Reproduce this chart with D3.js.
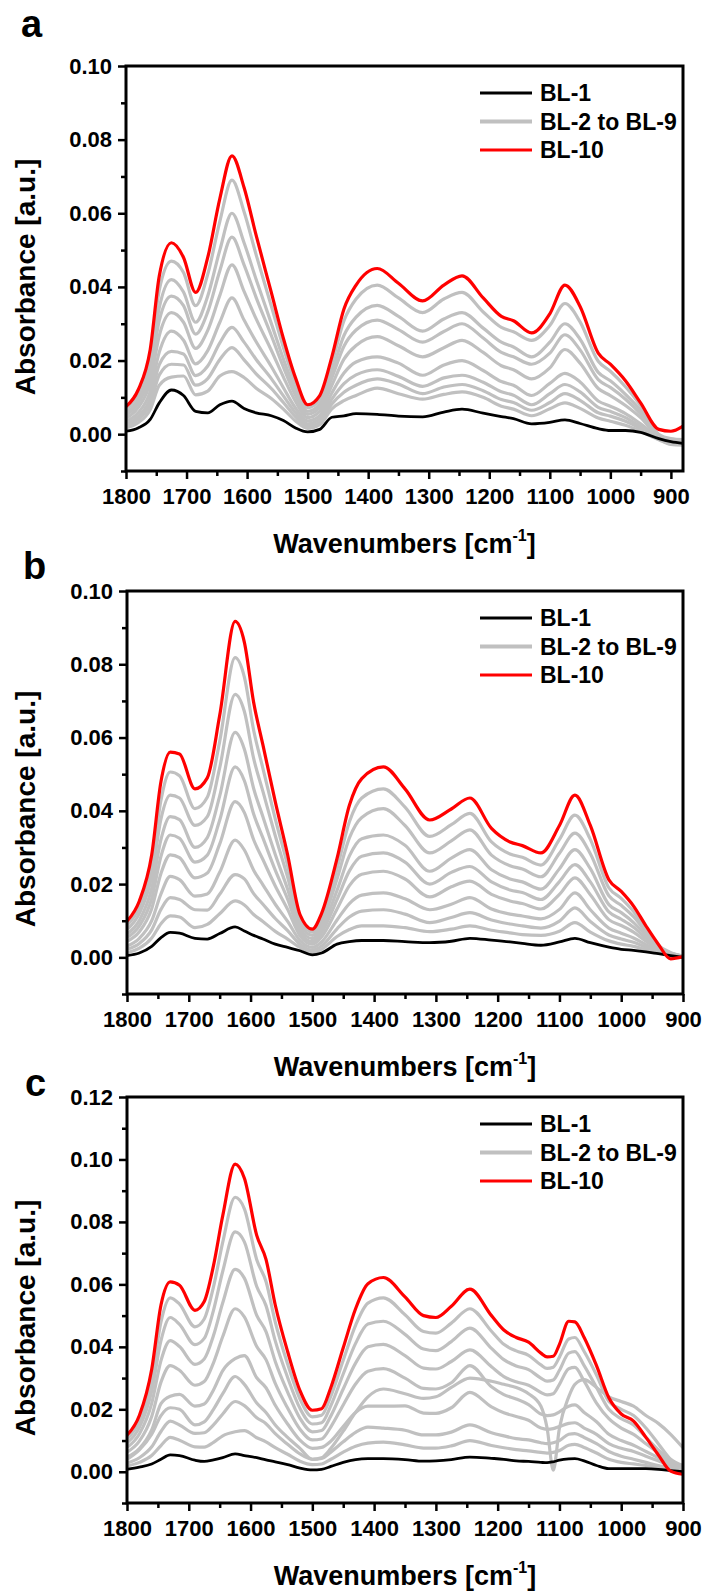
<!DOCTYPE html>
<html>
<head>
<meta charset="utf-8">
<script src="https://cdnjs.cloudflare.com/ajax/libs/d3/7.8.5/d3.min.js"></script>
<style>
body{margin:0;background:#fff;}
text{font-family:"Liberation Sans",Arial,sans-serif;font-weight:bold;fill:#000;}
</style>
</head>
<body>
<div id="dataviz-container"></div>
<script>
//---------------------data: panel a---------------------------------------------------
var wnA = [1800,1780,1760,1745,1725,1705,1685,1665,1645,1625,1605,1585,1560,1540,1520,1500,1480,1460,1440,1420,1385,1350,1310,1275,1245,1210,1180,1160,1130,1100,1075,1050,1020,1000,975,950,920,900,880];
var bl1A = [.0008,.0017,.004,.0085,.012,.0105,.0062,.0058,.008,.009,.007,.0058,.005,.0037,.0017,.0006,.0013,.0046,.005,.0056,.0054,.0049,.0047,.006,.0068,.0057,.0048,.0042,.0028,.0032,.0039,.0029,.0015,.001,.001,.0005,-.0012,-.002,-.0025];
var bl10A = [.0075,.012,.023,.043,.052,.048,.0385,.048,.064,.0756,.067,.054,.0385,.026,.0153,.008,.0105,.021,.034,.0405,.045,.041,.0362,.0405,.043,.037,.032,.0308,.0275,.0327,.0405,.0347,.022,.019,.0145,.0085,.0013,.0008,.0022];
// BL-2..BL-9, one row per wavenumber of wnA
var grayA = [
 [.0017,.0023,.0028,.0035,.0043,.0052,.0058,.0068],
 [.0031,.0040,.0048,.0058,.0072,.0084,.0094,.0109],
 [.0067,.0082,.0097,.0116,.0141,.0164,.0183,.0209],
 [.0133,.0161,.0189,.0223,.0268,.0309,.0344,.0392],
 [.0155,.0190,.0225,.0280,.0330,.0375,.0420,.0470],
 [.0158,.0188,.0218,.0255,.0304,.0349,.0386,.0439],
 [.0107,.0133,.0159,.0191,.0233,.0272,.0304,.0349],
 [.0117,.0151,.0185,.0227,.0282,.0332,.0375,.0434],
 [.0158,.0203,.0248,.0304,.0377,.0444,.0500,.0578],
 [.0170,.0235,.0290,.0370,.0460,.0535,.0600,.0690],
 [.0154,.0202,.0250,.0310,.0388,.0460,.0520,.0604],
 [.0125,.0164,.0203,.0251,.0313,.0371,.0420,.0487],
 [.0097,.0124,.0151,.0184,.0228,.0268,.0301,.0348],
 [.0068,.0086,.0104,.0126,.0155,.0182,.0204,.0235],
 [.0036,.0047,.0058,.0071,.0089,.0105,.0119,.0138],
 [.0016,.0022,.0028,.0036,.0045,.0054,.0062,.0072],
 [.0026,.0033,.0041,.0050,.0062,.0073,.0082,.0095],
 [.0069,.0082,.0095,.0112,.0133,.0153,.0169,.0192],
 [.0091,.0114,.0137,.0166,.0204,.0239,.0268,.0308],
 [.0105,.0133,.0161,.0196,.0241,.0283,.0318,.0367],
 [.0125,.0150,.0175,.0210,.0265,.0310,.0350,.0405],
 [.0110,.0136,.0157,.0193,.0240,.0284,.0320,.0370],
 [.0095,.0110,.0130,.0160,.0210,.0250,.0280,.0330],
 [.0108,.0128,.0153,.0188,.0235,.0279,.0313,.0367],
 [.0115,.0135,.0160,.0200,.0255,.0300,.0330,.0385],
 [.0100,.0118,.0141,.0173,.0222,.0261,.0288,.0332],
 [.0076,.0094,.0115,.0143,.0186,.0222,.0250,.0290],
 [.0068,.0086,.0106,.0133,.0175,.0210,.0237,.0278],
 [.0050,.0065,.0080,.0105,.0150,.0190,.0210,.0255],
 [.0069,.0086,.0110,.0138,.0180,.0220,.0250,.0295],
 [.0085,.0110,.0135,.0165,.0230,.0270,.0300,.0355],
 [.0070,.0092,.0115,.0142,.0193,.0229,.0258,.0305],
 [.0044,.0058,.0073,.0090,.0124,.0148,.0168,.0198],
 [.0035,.0049,.0062,.0076,.0105,.0127,.0145,.0171],
 [.0024,.0035,.0045,.0056,.0078,.0095,.0108,.0129],
 [.0008,.0015,.0020,.0028,.0045,.0055,.0065,.0078],
 [-.0015,-.0013,-.0011,-.0009,-.0007,-.0005,-.0003,.0000],
 [-.0028,-.0026,-.0024,-.0022,-.0020,-.0018,-.0015,-.0012],
 [-.0030,-.0028,-.0026,-.0024,-.0022,-.0020,-.0018,-.0015]
];

//---------------------data: panel b---------------------------------------------------
var wnB = [1800,1780,1760,1745,1730,1715,1690,1670,1650,1625,1610,1595,1580,1560,1540,1520,1500,1485,1460,1440,1420,1385,1350,1310,1275,1245,1210,1180,1160,1130,1100,1075,1050,1020,1000,980,960,940,920,900];
var bl1B = [.0005,.0012,.003,.0054,.0068,.0066,.0052,.005,.0065,.0083,.0072,.006,.005,.0036,.0027,.0018,.0007,.0012,.0036,.0043,.0046,.0046,.0043,.004,.0044,.0052,.0047,.0042,.0038,.0033,.0042,.0052,.004,.0028,.0022,.0019,.0015,.001,.0005,0];
var bl10B = [.0099,.0154,.028,.048,.056,.0555,.046,.049,.066,.0917,.086,.0696,.058,.0425,.028,.0117,.0077,.012,.027,.0415,.0488,.052,.046,.0375,.0405,.0435,.0352,.0315,.0305,.0285,.036,.0443,.036,.0212,.018,.014,.0086,.0036,-.0004,.0002];
var grayB = [
 [.0013,.0022,.0031,.0044,.0054,.0064,.0076,.0088],
 [.0025,.0038,.0052,.0070,.0086,.0101,.0120,.0137],
 [.0053,.0075,.0100,.0133,.0160,.0188,.0220,.0250],
 [.0092,.0131,.0173,.0229,.0276,.0322,.0378,.0429],
 [.0113,.0163,.0221,.0280,.0334,.0384,.0443,.0506],
 [.0110,.0158,.0212,.0272,.0325,.0376,.0435,.0496],
 [.0081,.0130,.0167,.0217,.0260,.0300,.0360,.0406],
 [.0090,.0129,.0173,.0230,.0279,.0327,.0384,.0437],
 [.0119,.0172,.0232,.0309,.0374,.0440,.0517,.0589],
 [.0154,.0226,.0320,.0425,.0520,.0614,.0718,.0818],
 [.0143,.0214,.0293,.0395,.0482,.0568,.0671,.0765],
 [.0117,.0174,.0238,.0321,.0391,.0461,.0543,.0620],
 [.0098,.0145,.0198,.0267,.0326,.0384,.0453,.0516],
 [.0071,.0106,.0145,.0195,.0238,.0281,.0332,.0378],
 [.0050,.0073,.0098,.0131,.0159,.0186,.0219,.0250],
 [.0027,.0036,.0046,.0059,.0069,.0080,.0093,.0105],
 [.0013,.0020,.0027,.0036,.0043,.0051,.0060,.0069],
 [.0022,.0031,.0042,.0056,.0068,.0080,.0094,.0107],
 [.0057,.0078,.0102,.0132,.0158,.0183,.0214,.0242],
 [.0076,.0110,.0147,.0196,.0236,.0277,.0326,.0370],
 [.0086,.0126,.0170,.0227,.0276,.0324,.0382,.0435],
 [.0086,.0130,.0176,.0235,.0285,.0334,.0406,.0460],
 [.0081,.0118,.0160,.0214,.0260,.0306,.0360,.0410],
 [.0070,.0095,.0130,.0165,.0200,.0235,.0285,.0330],
 [.0077,.0109,.0145,.0193,.0232,.0271,.0318,.0362],
 [.0086,.0122,.0163,.0208,.0248,.0294,.0348,.0393],
 [.0074,.0102,.0132,.0172,.0206,.0239,.0279,.0315],
 [.0067,.0091,.0118,.0154,.0184,.0214,.0250,.0282],
 [.0062,.0086,.0113,.0147,.0177,.0206,.0241,.0273],
 [.0060,.0080,.0105,.0132,.0158,.0186,.0220,.0252],
 [.0071,.0099,.0131,.0172,.0207,.0242,.0284,.0322],
 [.0095,.0135,.0176,.0217,.0253,.0294,.0339,.0388],
 [.0069,.0098,.0130,.0171,.0206,.0242,.0283,.0322],
 [.0045,.0061,.0080,.0103,.0124,.0144,.0168,.0190],
 [.0036,.0050,.0066,.0087,.0104,.0122,.0142,.0161],
 [.0030,.0041,.0053,.0069,.0082,.0095,.0111,.0125],
 [.0021,.0028,.0035,.0044,.0052,.0060,.0069,.0077],
 [.0012,.0015,.0017,.0021,.0024,.0026,.0030,.0033],
 [.0006,.0007,.0008,.0009,.0010,.0011,.0012,.0013],
 [.0001,.0001,.0002,.0002,.0003,.0003,.0004,.0004]
];

//---------------------data: panel c---------------------------------------------------
var wnC = [1800,1780,1760,1745,1730,1715,1690,1675,1660,1645,1625,1610,1590,1575,1560,1540,1520,1500,1485,1470,1450,1430,1410,1385,1350,1320,1300,1275,1245,1210,1190,1170,1150,1130,1120,1110,1100,1085,1075,1060,1040,1020,1000,980,960,940,920,900];
var bl1C = [.0008,.0015,.0025,.004,.0054,.0052,.0037,.0033,.0038,.0045,.0057,.0052,.0045,.0038,.0032,.0023,.0012,.0006,.0008,.0017,.003,.0039,.0042,.0042,.0039,.0034,.0035,.0039,.0047,.0043,.004,.0035,.0033,.003,.0029,.0032,.0037,.0041,.0042,.0035,.002,.001,.001,.001,.001,.0008,.0004,0];
var bl10C = [.0117,.018,.0328,.0534,.0608,.0597,.0517,.0545,.066,.082,.0985,.094,.0757,.068,.0534,.0385,.026,.0197,.0202,.027,.0397,.0522,.0602,.0622,.056,.05,.0494,.053,.0585,.05,.0454,.043,.0415,.038,.0368,.037,.0408,.0482,.048,.043,.034,.0237,.0185,.0162,.011,.0054,.0002,-.0008];
var grayC = [
 [.0018,.0028,.0040,.0047,.0063,.0078,.0092,.0105],
 [.0030,.0045,.0070,.0074,.0098,.0121,.0142,.0162],
 [.0052,.0080,.0120,.0134,.0177,.0219,.0258,.0295],
 [.0084,.0129,.0180,.0218,.0287,.0356,.0420,.0480],
 [.0110,.0162,.0205,.0242,.0340,.0420,.0494,.0557],
 [.0101,.0150,.0200,.0248,.0325,.0401,.0472,.0537],
 [.0080,.0123,.0150,.0210,.0277,.0344,.0407,.0464],
 [.0079,.0125,.0160,.0217,.0289,.0361,.0427,.0489],
 [.0094,.0150,.0200,.0262,.0349,.0436,.0517,.0592],
 [.0115,.0185,.0250,.0324,.0433,.0541,.0642,.0735],
 [.0128,.0225,.0305,.0362,.0522,.0648,.0768,.0879],
 [.0132,.0212,.0280,.0372,.0496,.0620,.0736,.0842],
 [.0109,.0173,.0220,.0301,.0401,.0501,.0593,.0679],
 [.0096,.0154,.0190,.0269,.0359,.0449,.0532,.0609],
 [.0077,.0122,.0150,.0213,.0283,.0353,.0419,.0479],
 [.0056,.0088,.0110,.0153,.0204,.0255,.0302,.0345],
 [.0034,.0057,.0075,.0101,.0136,.0171,.0203,.0233],
 [.0023,.0040,.0040,.0075,.0102,.0128,.0153,.0176],
 [.0025,.0043,.0045,.0078,.0105,.0132,.0157,.0181],
 [.0040,.0063,.0075,.0098,.0144,.0179,.0212,.0242],
 [.0063,.0096,.0130,.0145,.0214,.0265,.0313,.0357],
 [.0082,.0126,.0190,.0190,.0281,.0348,.0411,.0469],
 [.0092,.0143,.0240,.0210,.0322,.0400,.0473,.0540],
 [.0095,.0140,.0265,.0210,.0330,.0408,.0482,.0557],
 [.0086,.0133,.0250,.0211,.0300,.0372,.0440,.0503],
 [.0076,.0118,.0235,.0188,.0267,.0332,.0393,.0449],
 [.0076,.0118,.0240,.0187,.0265,.0329,.0388,.0444],
 [.0083,.0127,.0270,.0205,.0285,.0353,.0417,.0476],
 [.0100,.0150,.0300,.0254,.0340,.0390,.0460,.0522],
 [.0084,.0125,.0290,.0208,.0272,.0336,.0395,.0450],
 [.0077,.0115,.0280,.0189,.0247,.0305,.0359,.0408],
 [.0071,.0106,.0270,.0177,.0233,.0288,.0339,.0387],
 [.0067,.0102,.0250,.0165,.0215,.0277,.0327,.0373],
 [.0062,.0093,.0210,.0140,.0185,.0254,.0300,.0342],
 [.0060,.0090,.0140,.0136,.0180,.0246,.0290,.0331],
 [.0062,.0093,.0005,.0138,.0182,.0250,.0294,.0335],
 [.0068,.0100,.0140,.0145,.0192,.0280,.0325,.0367],
 [.0085,.0120,.0240,.0155,.0210,.0330,.0380,.0425],
 [.0088,.0122,.0280,.0157,.0214,.0334,.0385,.0430],
 [.0078,.0110,.0295,.0140,.0190,.0290,.0340,.0385],
 [.0060,.0090,.0270,.0120,.0160,.0220,.0270,.0310],
 [.0040,.0065,.0240,.0090,.0120,.0170,.0200,.0225],
 [.0030,.0050,.0225,.0075,.0100,.0140,.0170,.0200],
 [.0025,.0040,.0210,.0065,.0085,.0120,.0150,.0180],
 [.0020,.0030,.0180,.0050,.0065,.0090,.0110,.0140],
 [.0015,.0020,.0155,.0035,.0045,.0060,.0070,.0090],
 [.0010,.0012,.0120,.0020,.0025,.0030,.0035,.0040],
 [.0002,.0005,.0077,.0008,.0010,.0012,.0015,.0020]
];

//---------------------ticks / labels---------------------------------------------------
var xTicks = [1800,1700,1600,1500,1400,1300,1200,1100,1000,900];
var xMinor = [1750,1650,1550,1450,1350,1250,1150,1050,950];
var yTicksAB = [0,0.02,0.04,0.06,0.08,0.10];
var yMinorAB = [-0.01,0.01,0.03,0.05,0.07,0.09];
var yTicksC = [0,0.02,0.04,0.06,0.08,0.10,0.12];
var yMinorC = [-0.01,0.01,0.03,0.05,0.07,0.09,0.11];
var legendNames = ['BL-1','BL-2 to BL-9','BL-10'];
var legendColors = ['#000000','#c0c0c0','#ff0000'];

var svg = d3.select('#dataviz-container').append('svg')
	.attr('width',705).attr('height',1591)
	.style('display','block').style('background','#fff');

var panels = [
	{id:'a', wn:wnA, black:bl1A, red:bl10A, gray:grayA, xMin:880, yMax:0.10, yTicks:yTicksAB, yMinor:yMinorAB,
	 left:126, right:683, top:66, bottom:471, labelX:21, labelY:37, yTitleY:277},
	{id:'b', wn:wnB, black:bl1B, red:bl10B, gray:grayB, xMin:900, yMax:0.10, yTicks:yTicksAB, yMinor:yMinorAB,
	 left:127, right:683, top:591, bottom:994, labelX:23, labelY:579, yTitleY:809},
	{id:'c', wn:wnC, black:bl1C, red:bl10C, gray:grayC, xMin:900, yMax:0.12, yTicks:yTicksC, yMinor:yMinorC,
	 left:127, right:683, top:1097, bottom:1503, labelX:25, labelY:1096, yTitleY:1318}
];

panels.forEach(function(p) {
	var x = d3.scaleLinear().domain([1800, p.xMin]).range([p.left, p.right]);
	var y = d3.scaleLinear().domain([-0.01, p.yMax]).range([p.bottom, p.top]);
	var g = svg.append('g');

	g.append('clipPath').attr('id','clip-'+p.id)
		.append('rect').attr('x',p.left).attr('y',p.top)
		.attr('width',p.right-p.left).attr('height',p.bottom-p.top);

	var line = d3.line().curve(d3.curveMonotoneX);
	function pts(vals) { return p.wn.map(function(w,i){ return [x(w), y(vals[i])]; }); }

	var plot = g.append('g').attr('clip-path','url(#clip-'+p.id+')');
	// grey spectra BL-2..BL-9
	for (var k = 0; k < 8; k++) {
		var vals = p.gray.map(function(r){ return r[k]; });
		plot.append('path').attr('d', line(pts(vals)))
			.attr('fill','none').attr('stroke','#c0c0c0').attr('stroke-width',3.2).attr('stroke-linejoin','round');
	}
	plot.append('path').attr('d', line(pts(p.black)))
		.attr('fill','none').attr('stroke','#000').attr('stroke-width',2.8).attr('stroke-linejoin','round');
	plot.append('path').attr('d', line(pts(p.red)))
		.attr('fill','none').attr('stroke','#ff0000').attr('stroke-width',3.2).attr('stroke-linejoin','round');

	// axes
	g.append('g').attr('transform','translate(0,'+p.bottom+')')
		.call(d3.axisBottom(x).tickValues(xTicks).tickSize(8).tickPadding(9).tickFormat(d3.format('d')));
	g.append('g').attr('transform','translate(0,'+p.bottom+')')
		.call(d3.axisBottom(x).tickValues(xMinor).tickSize(5).tickFormat(''));
	g.append('g').attr('transform','translate('+p.left+',0)')
		.call(d3.axisLeft(y).tickValues(p.yTicks).tickSize(8).tickPadding(6).tickFormat(d3.format('.2f')));
	g.append('g').attr('transform','translate('+p.left+',0)')
		.call(d3.axisLeft(y).tickValues(p.yMinor).tickSize(5).tickFormat(''));
	g.selectAll('.domain').remove();
	g.selectAll('.tick line').attr('stroke','#000').attr('stroke-width',2.5);
	g.selectAll('.tick text').style('font-size','22px').style('font-weight','bold')
		.style('font-family','"Liberation Sans",Arial,sans-serif').attr('fill','#000');

	// frame
	g.append('rect').attr('x',p.left).attr('y',p.top)
		.attr('width',p.right-p.left).attr('height',p.bottom-p.top)
		.attr('fill','none').attr('stroke','#000').attr('stroke-width',3);

	// titles
	var xt = g.append('text').attr('x',(p.left+p.right)/2).attr('y',p.bottom+82)
		.attr('text-anchor','middle').style('font-size','27px');
	xt.append('tspan').text('Wavenumbers [cm');
	xt.append('tspan').attr('dy',-12).style('font-size','16px').text('-1');
	xt.append('tspan').attr('dy',12).text(']');

	g.append('text').attr('transform','translate(35,'+p.yTitleY+') rotate(-90)')
		.attr('text-anchor','middle').style('font-size','28px').text('Absorbance [a.u.]');

	g.append('text').attr('x',p.labelX).attr('y',p.labelY).style('font-size','38px').text(p.id);

	// legend
	legendNames.forEach(function(n,i) {
		var ly = p.top + 27 + i*28.5;
		g.append('line').attr('x1',480).attr('x2',532).attr('y1',ly).attr('y2',ly)
			.attr('stroke',legendColors[i]).attr('stroke-width', i==1 ? 4 : 3);
		g.append('text').attr('x',540).attr('y',ly).attr('dy','0.36em')
			.style('font-size','23px').text(n);
	});
});
</script>
</body>
</html>
